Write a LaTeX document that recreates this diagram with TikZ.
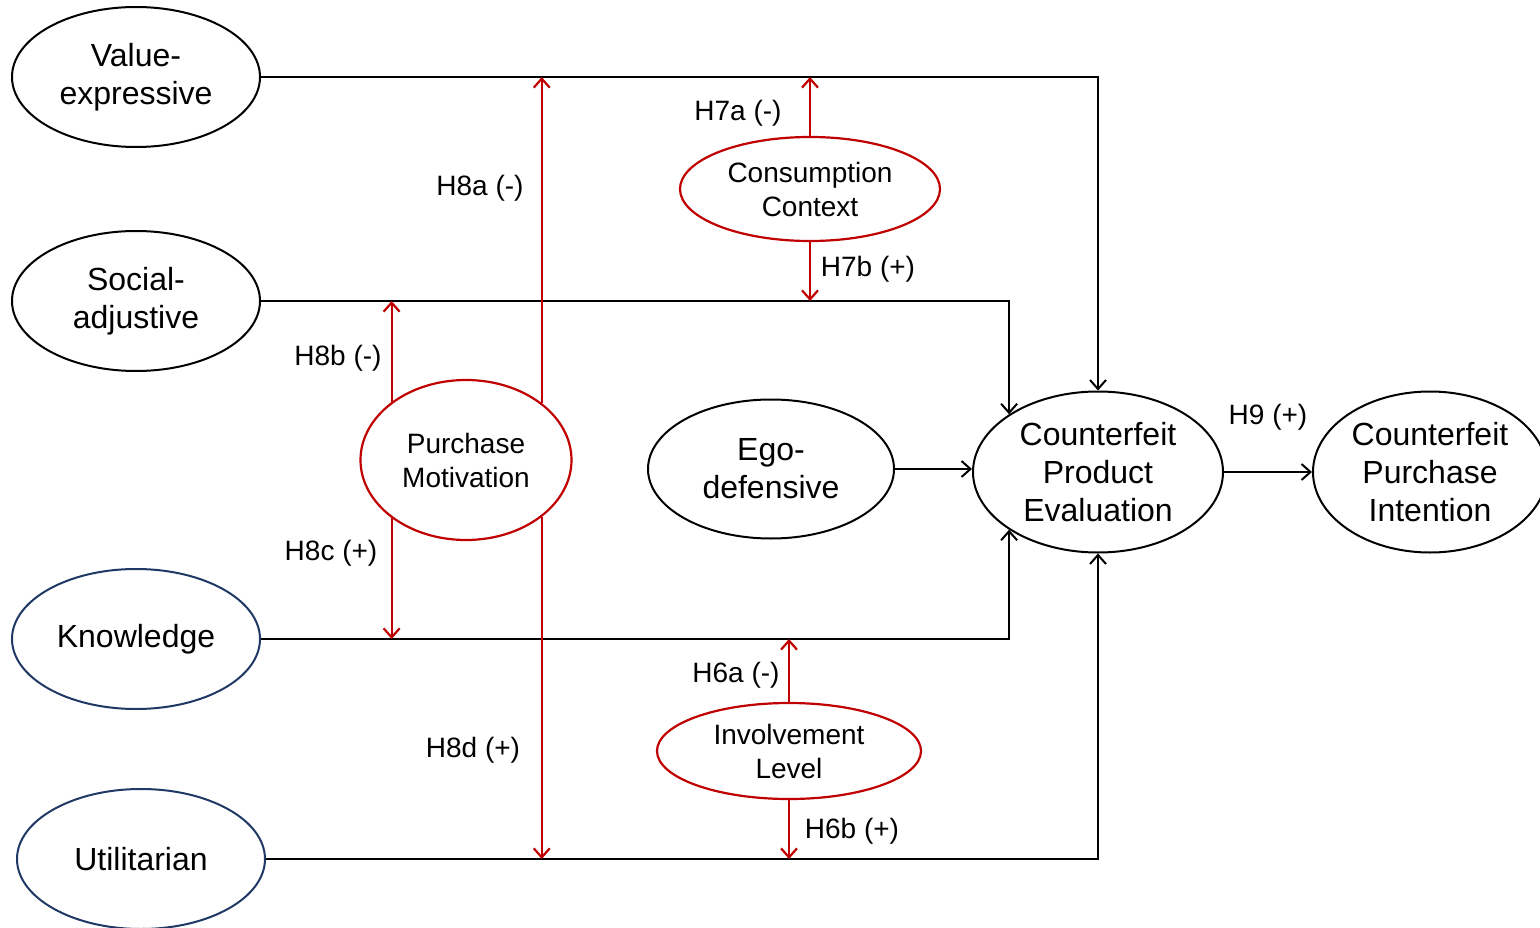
\documentclass[tikz,border=0pt]{standalone}
\usepackage{fontspec}
\setmainfont{Liberation Sans}
\usetikzlibrary{shapes.geometric,arrows.meta}
\definecolor{cred}{HTML}{C00000}
\definecolor{navy}{HTML}{1F3864}
\begin{document}
\begin{tikzpicture}[x=1pt,y=-1pt,
  big/.style={ellipse,draw,line width=2pt,inner sep=0pt,align=center,font=\fontsize{32}{38}\selectfont},
  mod/.style={ellipse,draw=cred,line width=2.2pt,inner sep=0pt,align=center,font=\fontsize{28}{34}\selectfont},
  conn/.style={line width=2pt,-{Straight Barb[length=9pt,width=16pt,line width=2pt]}},
  rconn/.style={draw=cred,line width=2.2pt,-{Straight Barb[length=9pt,width=16pt,line width=2.2pt]}},
  lab/.style={font=\fontsize{28}{34}\selectfont,inner sep=0pt}]
\useasboundingbox (0,0) rectangle (1540,928);

\node[big,minimum width=248pt,minimum height=140pt] (ve) at (136,77) {Value-\\expressive};
\node[big,minimum width=248pt,minimum height=140pt] (sa) at (136,301) {Social-\\adjustive};
\node[big,draw=navy,minimum width=248pt,minimum height=140pt] (kn) at (136,639) {Knowledge};
\node[big,draw=navy,minimum width=248pt,minimum height=140pt] (ut) at (141,859) {Utilitarian};
\node[big,minimum width=246pt,minimum height=139pt] (ed) at (771,469) {Ego-\\defensive};
\node[big,minimum width=250pt,minimum height=161pt] (cpe) at (1098,472) {Counterfeit\\Product\\Evaluation};
\node[big,minimum width=234pt,minimum height=161pt] (cpi) at (1430,472) {Counterfeit\\Purchase\\Intention};
\node[mod,minimum width=211pt,minimum height=160pt] (pm) at (466,460) {Purchase\\Motivation};
\node[mod,minimum width=260pt,minimum height=104pt] (cc) at (810,189) {Consumption\\Context};
\node[mod,minimum width=264pt,minimum height=96pt] (il) at (789,751) {Involvement\\Level};

% black paths
\draw[conn] (ve.east) -- (ve.east -| cpe.north) -- (cpe.north);
\draw[conn] (sa.east) -- (sa.east -| cpe.147) -- (cpe.147);
\draw[conn] (kn.east) -- (kn.east -| cpe.-147) -- (cpe.-147);
\draw[conn] (ut.east) -- (ut.east -| cpe.south) -- (cpe.south);
\draw[conn] (ed.east) -- (ed.east -| cpe.west);
\draw[conn] (cpe.east) -- (cpe.east -| cpi.west);

% red moderators
\draw[rconn] (pm.37.5) -- (pm.37.5 |- ve.east);
\draw[rconn] (pm.-37.5) -- (pm.-37.5 |- ut.east);
\draw[rconn] (pm.142.5) -- (pm.142.5 |- sa.east);
\draw[rconn] (pm.-142.5) -- (pm.-142.5 |- kn.east);
\draw[rconn] (cc.north) -- (cc.north |- ve.east);
\draw[rconn] (cc.south) -- (cc.south |- sa.east);
\draw[rconn] (il.north) -- (il.north |- kn.east);
\draw[rconn] (il.south) -- (il.south |- ut.east);

% labels
\node[lab] (l8a) at (480,188) {H8a (-)};
\node[lab] (l7a) at (738,113) {H7a (-)};
\node[lab] (l7b) at (868,269) {H7b (+)};
\node[lab] (l8b) at (338,358) {H8b (-)};
\node[lab] (l8c) at (331,553) {H8c (+)};
\node[lab] (l9) at (1268,417) {H9 (+)};
\node[lab] (l6a) at (736,675) {H6a (-)};
\node[lab] (l8d) at (473,750) {H8d (+)};
\node[lab] (l6b) at (852,831) {H6b (+)};
\end{tikzpicture}
\end{document}
